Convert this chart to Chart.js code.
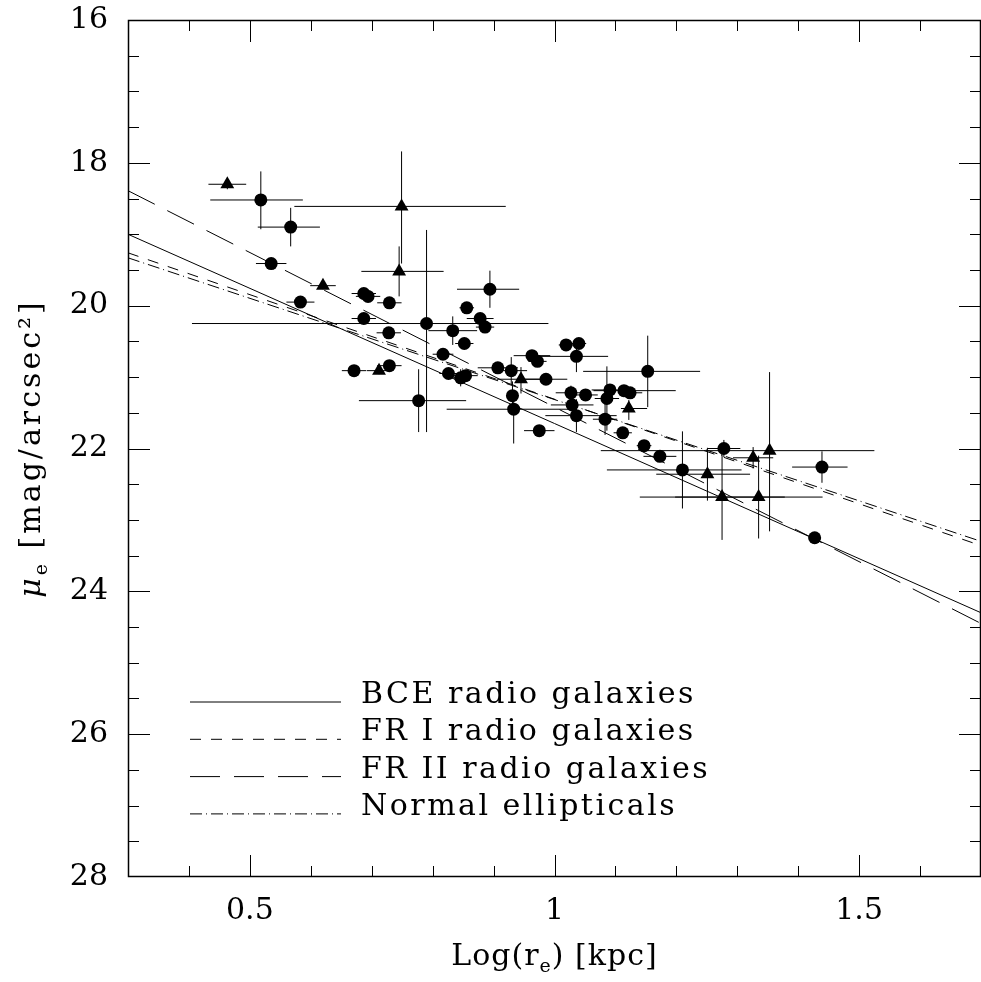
<!DOCTYPE html>
<html>
<head>
<meta charset="utf-8">
<title>mu_e vs log r_e</title>
<script src="https://cdn.jsdelivr.net/npm/chart.js@4.4.1/dist/chart.umd.min.js"></script>
<style>
  html, body { margin: 0; padding: 0; background: #fff; }
  #wrap { width: 981px; height: 982px; position: relative; }
</style>
</head>
<body>
<div id="wrap"><canvas id="myChart"></canvas></div>
<script>
// ---- data ----
// circles
const circX   = [0.518,0.567,0.535,0.583,0.687,0.694,0.729,0.687,0.790,0.728,0.671,0.729,0.777,0.894,0.856,0.878,0.886,0.833,0.852,0.817,0.826,0.846,0.854,0.907,0.929,0.931,0.933,0.975,0.963,0.972,0.986,1.019,1.040,1.036,1.027,1.051,1.029,1.036,1.091,1.086,1.083,1.114,1.124,1.153,1.112,1.147,1.173,1.210,1.278,1.439,1.427];
const circY   = [18.52,18.90,19.41,19.95,19.83,19.87,19.96,20.18,20.25,20.38,20.91,20.84,21.33,19.77,20.03,20.18,20.30,20.35,20.53,20.68,20.95,21.01,20.98,20.87,20.91,21.26,21.45,21.75,20.70,20.78,21.03,20.55,20.53,20.71,21.22,21.25,21.39,21.54,21.18,21.30,21.59,21.19,21.22,20.92,21.78,21.96,22.11,22.30,22.00,22.26,23.25];
const circXlo = [0.083,0.054,0.025,0.023,0.020,0.020,0.020,0.020,0.385,0.020,0.020,0.020,0.098,0.054,0.012,0.022,0.015,0.040,0.015,0.017,0.015,0.015,0.020,0.033,0.026,0.010,0.110,0.025,0.030,0.015,0.035,0.012,0.012,0.072,0.025,0.020,0.035,0.051,0.030,0.020,0.020,0.050,0.020,0.106,0.015,0.012,0.027,0.124,0.027,0.049,0.010];
const circXhi = [0.069,0.048,0.025,0.023,0.020,0.020,0.020,0.020,0.200,0.020,0.020,0.020,0.078,0.048,0.012,0.022,0.015,0.040,0.015,0.017,0.015,0.015,0.020,0.033,0.026,0.010,0.093,0.025,0.030,0.015,0.035,0.012,0.012,0.052,0.025,0.020,0.035,0.066,0.030,0.020,0.020,0.085,0.020,0.086,0.015,0.012,0.027,0.097,0.027,0.042,0.010];
const circYlo = [0.40,0.27,0.05,0.05,0.05,0.04,0.07,0.06,1.31,0.08,0.04,0.05,0.44,0.26,0.04,0.04,0.05,0.20,0.04,0.05,0.04,0.12,0.04,0.08,0.19,0.20,0.10,0.05,0.05,0.05,0.05,0.04,0.07,0.22,0.10,0.05,0.08,0.23,0.06,0.45,0.22,0.05,0.06,0.50,0.04,0.05,0.05,0.54,0.12,0.22,0.03];
const circYhi = [0.41,0.27,0.05,0.05,0.05,0.04,0.07,0.06,1.52,0.08,0.04,0.05,0.44,0.26,0.04,0.04,0.05,0.20,0.04,0.05,0.04,0.12,0.04,0.08,0.19,0.20,0.48,0.05,0.05,0.05,0.05,0.04,0.07,0.22,0.10,0.05,0.08,0.23,0.06,0.45,0.22,0.05,0.06,0.50,0.04,0.05,0.05,0.54,0.12,0.22,0.03];

// triangles
const triX   = [0.463,0.749,0.745,0.620,0.712,0.945,1.122,1.251,1.275,1.335,1.326,1.353];
const triY   = [18.30,18.61,19.52,19.72,20.91,21.03,21.44,22.36,22.68,22.68,22.13,22.03];
const triXlo = [0.031,0.176,0.062,0.021,0.020,0.040,0.013,0.084,0.135,0.137,0.033,0.277];
const triXhi = [0.031,0.171,0.073,0.021,0.020,0.047,0.030,0.070,0.103,0.105,0.033,0.172];
const triYlo = [0.07,0.77,0.35,0.05,0.05,0.17,0.12,0.37,0.60,0.58,0.15,1.10];
const triYhi = [0.07,0.80,0.35,0.05,0.05,0.20,0.16,0.37,0.60,0.58,0.15,1.13];

// regression lines, values at the two ends of the x range
const fitX     = [0.3, 1.7];
const bceFit   = [19.00, 24.30];
const fr1Fit   = [19.26, 23.36];
const fr2Fit   = [18.39, 24.45];
const ellFit   = [19.33, 23.30];
const fitNames = ["BCE radio galaxies", "FR I radio galaxies", "FR II radio galaxies", "Normal ellipticals"];

// axes
const xMin = 0.3, xMax = 1.7;
const yMin = 16, yMax = 28;
const xTickLabels = [0.5, 1, 1.5];
const yTickLabels = [16, 18, 20, 22, 24, 26, 28];

const FONT = "'DejaVu Serif', serif";

function pts(xs, ys, xl, xh, yl, yh) {
  return xs.map((x, i) => ({ x: x, y: ys[i], xlo: xl[i], xhi: xh[i], ylo: yl[i], yhi: yh[i] }));
}
function fitPts(ys) {
  return fitX.map((x, i) => ({ x: x, y: ys[i] }));
}

// error bars drawn with the chart scales
const errorBars = {
  id: 'errorBars',
  beforeDatasetsDraw(chart) {
    const ctx = chart.ctx, xs = chart.scales.x, ys = chart.scales.y, a = chart.chartArea;
    ctx.save();
    ctx.beginPath();
    ctx.rect(a.left, a.top, a.right - a.left, a.bottom - a.top);
    ctx.clip();
    ctx.strokeStyle = '#000';
    ctx.lineWidth = 1;
    chart.data.datasets.forEach(ds => {
      if (!ds.errorBars) return;
      ds.data.forEach(p => {
        const px = xs.getPixelForValue(p.x), py = ys.getPixelForValue(p.y);
        ctx.beginPath();
        ctx.moveTo(xs.getPixelForValue(p.x - p.xlo), py);
        ctx.lineTo(xs.getPixelForValue(p.x + p.xhi), py);
        ctx.moveTo(px, ys.getPixelForValue(p.y - p.ylo));
        ctx.lineTo(px, ys.getPixelForValue(p.y + p.yhi));
        ctx.stroke();
      });
    });
    ctx.restore();
  }
};

// frame, inward ticks on all sides, titles and the legend
const frame = {
  id: 'frame',
  afterDraw(chart) {
    const ctx = chart.ctx, xs = chart.scales.x, ys = chart.scales.y, a = chart.chartArea;
    ctx.save();
    ctx.strokeStyle = '#000';
    ctx.lineWidth = 1.5;
    ctx.strokeRect(a.left + 0.5, a.top + 0.5, a.right - a.left - 1, a.bottom - a.top - 1);

    ctx.lineWidth = 1;
    ctx.beginPath();
    for (let k = 4; k <= 16; k++) {
      const v = k / 10;
      const px = Math.round(xs.getPixelForValue(v)) + 0.5;
      const len = (k % 5 === 0) ? 22 : 11;
      ctx.moveTo(px, a.bottom); ctx.lineTo(px, a.bottom - len);
      ctx.moveTo(px, a.top); ctx.lineTo(px, a.top + len);
    }
    for (let v = yMin + 0.5; v < yMax; v += 0.5) {
      const py = Math.round(ys.getPixelForValue(v)) + 0.5;
      const len = (v % 2 === 0) ? 22 : 11;
      ctx.moveTo(a.left, py); ctx.lineTo(a.left + len, py);
      ctx.moveTo(a.right, py); ctx.lineTo(a.right - len, py);
    }
    ctx.stroke();

    ctx.fillStyle = '#000';
    ctx.textBaseline = 'alphabetic';

    // x title: Log(r_e) [kpc]
    const parts = [
      { t: 'Log(r', f: '30px ' + FONT, dy: 0 },
      { t: 'e', f: '19px ' + FONT, dy: 7 },
      { t: ') [kpc]', f: '30px ' + FONT, dy: 0 }
    ];
    drawParts(ctx, parts, (a.left + a.right) / 2, 965, '1px');

    // y title: mu_e [mag/arcsec2]
    ctx.save();
    ctx.translate(40, (a.top + a.bottom) / 2);
    ctx.rotate(-Math.PI / 2);
    const yparts = [
      { t: 'μ', f: 'italic 30px ' + FONT, dy: 0 },
      { t: 'e', f: '19px ' + FONT, dy: 7 },
      { t: ' [mag/arcsec²]', f: '30px ' + FONT, dy: 0 }
    ];
    drawParts(ctx, yparts, 0, 0, '3px');
    ctx.restore();

    // legend of the fitted lines
    const lines = chart.data.datasets.filter(ds => ds.isFit);
    ctx.font = '30px ' + FONT;
    ctx.letterSpacing = '2.5px';
    lines.forEach((ds, i) => {
      const y = a.top + 682 + i * 37.3;
      ctx.beginPath();
      ctx.setLineDash(ds.borderDash || []);
      ctx.moveTo(a.left + 62, y);
      ctx.lineTo(a.left + 213, y);
      ctx.stroke();
      ctx.setLineDash([]);
      ctx.textAlign = 'left';
      ctx.fillText(ds.label, a.left + 233, y + 1);
    });
    ctx.restore();
  }
};

function drawParts(ctx, parts, cx, baseline, spacing) {
  ctx.letterSpacing = spacing;
  let total = 0;
  parts.forEach(p => { ctx.font = p.f; p.w = ctx.measureText(p.t).width; total += p.w; });
  let x = cx - total / 2;
  ctx.textAlign = 'left';
  parts.forEach(p => {
    ctx.font = p.f;
    ctx.fillText(p.t, x, baseline + p.dy);
    x += p.w;
  });
  ctx.letterSpacing = '0px';
}

// keep the plot box where the original has it: no extra room for edge labels
function noEdgePadding(s) {
  s.paddingTop = 0; s.paddingBottom = 0; s.paddingLeft = 0; s.paddingRight = 0;
}

const fitStyle = (label, ys, dash) => ({
  type: 'line',
  label: label,
  data: fitPts(ys),
  isFit: true,
  borderColor: '#000',
  borderWidth: 1,
  borderDash: dash,
  pointRadius: 0,
  fill: false,
  showLine: true
});

document.addEventListener("DOMContentLoaded", () => {
  const ctx = document.getElementById('myChart').getContext('2d');
  new Chart(ctx, {
    type: 'scatter',
    data: {
      datasets: [
        {
          label: 'circles',
          data: pts(circX, circY, circXlo, circXhi, circYlo, circYhi),
          errorBars: true,
          pointStyle: 'circle',
          pointRadius: 6.5,
          backgroundColor: '#000',
          borderColor: '#000',
          borderWidth: 0
        },
        {
          label: 'triangles',
          data: pts(triX, triY, triXlo, triXhi, triYlo, triYhi),
          errorBars: true,
          pointStyle: 'triangle',
          pointRadius: 8,
          backgroundColor: '#000',
          borderColor: '#000',
          borderWidth: 0
        },
        fitStyle(fitNames[0], bceFit, []),
        fitStyle(fitNames[1], fr1Fit, [11, 10]),
        fitStyle(fitNames[2], fr2Fit, [30, 14]),
        fitStyle(fitNames[3], ellFit, [12, 4, 1, 4])
      ]
    },
    options: {
      responsive: true,
      maintainAspectRatio: false,
      animation: false,
      layout: { autoPadding: false, padding: { top: 20, right: 0, left: 0, bottom: 0 } },
      plugins: { legend: { display: false }, tooltip: { enabled: false } },
      scales: {
        x: {
          type: 'linear',
          min: xMin,
          max: xMax,
          afterBuildTicks: s => { s.ticks = xTickLabels.map(v => ({ value: v })); },
          afterFit: s => { s.height = 105; noEdgePadding(s); },
          grid: { display: false, drawTicks: false },
          border: { display: false },
          ticks: {
            color: '#000',
            font: { family: FONT, size: 30 },
            padding: 16,
            maxRotation: 0,
            autoSkip: false,
            callback: v => String(v)
          }
        },
        y: {
          type: 'linear',
          reverse: true,
          min: yMin,
          max: yMax,
          afterBuildTicks: s => { s.ticks = yTickLabels.map(v => ({ value: v })); },
          afterFit: s => { s.width = 128; noEdgePadding(s); },
          grid: { display: false, drawTicks: false },
          border: { display: false },
          ticks: {
            color: '#000',
            font: { family: FONT, size: 30 },
            padding: 20,
            autoSkip: false,
            callback: v => String(v)
          }
        }
      }
    },
    plugins: [errorBars, frame]
  });
});
</script>
</body>
</html>
